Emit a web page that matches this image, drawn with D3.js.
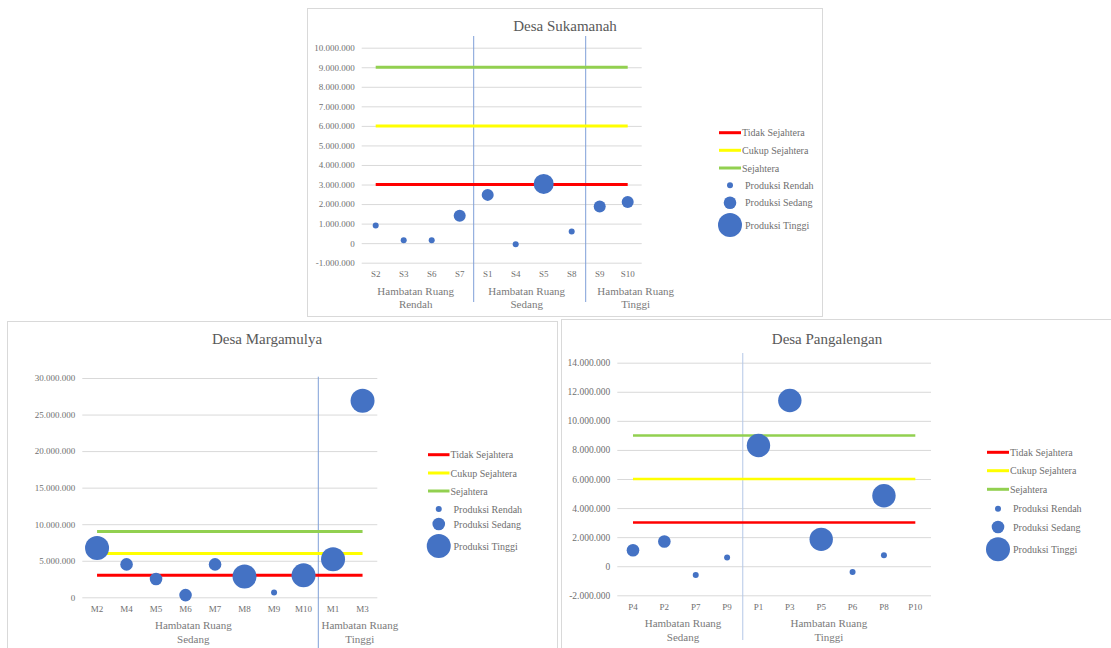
<!DOCTYPE html>
<html>
<head>
<meta charset="utf-8">
<script src="https://cdn.jsdelivr.net/npm/d3@7/dist/d3.min.js"></script>
<style>
  html, body { margin: 0; padding: 0; background: #ffffff; }
  svg, svg text { font-family: "Liberation Serif", "DejaVu Serif", "Noto Serif", Times, serif !important; }
</style>
</head>
<body>
<svg id="chart" width="1111" height="648"></svg>
<script>
// ---- Shared series ----
const thresholdNames  = ["Tidak Sejahtera", "Cukup Sejahtera", "Sejahtera"];
const thresholdValues = [3000000, 6000000, 9000000];
const thresholdColors = ["#ff0000", "#ffff00", "#92d050"];
const productionClasses = ["Rendah", "Sedang", "Tinggi"];
const productionLabels  = ["Produksi Rendah", "Produksi Sedang", "Produksi Tinggi"];
const groupNames = { Rendah: ["Hambatan Ruang", "Rendah"], Sedang: ["Hambatan Ruang", "Sedang"], Tinggi: ["Hambatan Ruang", "Tinggi"] };

// ---- Desa Sukamanah ----
const sukamanahCategories = ["S2", "S3", "S6", "S7", "S1", "S4", "S5", "S8", "S9", "S10"];
const sukamanahGroups     = ["Rendah", "Sedang", "Tinggi"];
const sukamanahGroupSizes = [4, 4, 2];
const sukamanahPoints     = ["S2", "S3", "S6", "S7", "S1", "S4", "S5", "S8", "S9", "S10"];
const sukamanahValues     = [900000, 150000, 150000, 1400000, 2470000, -50000, 3030000, 600000, 1880000, 2110000];
const sukamanahClasses    = ["Rendah", "Rendah", "Rendah", "Sedang", "Sedang", "Rendah", "Tinggi", "Rendah", "Sedang", "Sedang"];
const sukamanahTicks      = [-1000000, 0, 1000000, 2000000, 3000000, 4000000, 5000000, 6000000, 7000000, 8000000, 9000000, 10000000];

// ---- Desa Margamulya ----
const margamulyaCategories = ["M2", "M4", "M5", "M6", "M7", "M8", "M9", "M10", "M1", "M3"];
const margamulyaGroups     = ["Sedang", "Tinggi"];
const margamulyaGroupSizes = [8, 2];
const margamulyaPoints     = ["M2", "M4", "M5", "M6", "M7", "M8", "M9", "M10", "M1", "M3"];
const margamulyaValues     = [6750000, 4500000, 2500000, 300000, 4500000, 2850000, 650000, 3000000, 5200000, 26900000];
const margamulyaClasses    = ["Tinggi", "Sedang", "Sedang", "Sedang", "Sedang", "Tinggi", "Rendah", "Tinggi", "Tinggi", "Tinggi"];
const margamulyaTicks      = [0, 5000000, 10000000, 15000000, 20000000, 25000000, 30000000];

// ---- Desa Pangalengan ----
const pangalenganCategories = ["P4", "P2", "P7", "P9", "P1", "P3", "P5", "P6", "P8", "P10"];
const pangalenganGroups     = ["Sedang", "Tinggi"];
const pangalenganGroupSizes = [4, 6];
const pangalenganPoints     = ["P4", "P2", "P7", "P9", "P1", "P3", "P5", "P6", "P8", "P8"];
const pangalenganValues     = [1100000, 1700000, -600000, 600000, 8300000, 11400000, 1850000, -400000, 4850000, 750000];
const pangalenganClasses    = ["Sedang", "Sedang", "Rendah", "Rendah", "Tinggi", "Tinggi", "Tinggi", "Rendah", "Tinggi", "Rendah"];
const pangalenganTicks      = [-2000000, 0, 2000000, 4000000, 6000000, 8000000, 10000000, 12000000, 14000000];

// Indonesian number format: 10.000.000
const idLocale = d3.formatLocale({ decimal: ",", thousands: ".", grouping: [3], currency: ["Rp", ""], minus: "-" });
const fmt = idLocale.format(",d");

const FONT = '"Liberation Serif", "DejaVu Serif", "Noto Serif", Times, serif';
const svg = d3.select("#chart");

function drawChart(cfg) {
  const L = cfg.layout;
  const g = svg.append("g");

  // panel frame
  g.append("rect")
    .attr("x", L.panel[0] + 0.5).attr("y", L.panel[1] + 0.5)
    .attr("width", L.panel[2]).attr("height", L.panel[3])
    .attr("fill", "#ffffff").attr("stroke", "#d9d9d9").attr("stroke-width", 1);

  // title
  g.append("text")
    .attr("x", L.titleX).attr("y", L.titleY)
    .attr("text-anchor", "middle").attr("dominant-baseline", "central")
    .attr("font-size", 15).attr("fill", "#595959")
    .style("font-family", FONT)
    .text(cfg.title);

  const x = d3.scaleBand().domain(cfg.categories).range([L.x0, L.x1]);
  const y = d3.scaleLinear().domain(d3.extent(cfg.ticks)).range([L.yBottom, L.yTop]);
  const cx = c => x(c) + x.bandwidth() / 2;

  // gridlines + value labels
  const yAxis = d3.axisLeft(y).tickValues(cfg.ticks).tickFormat(fmt)
    .tickSizeInner(-(L.x1 - L.x0)).tickSizeOuter(0).tickPadding(7);
  const ya = g.append("g").attr("transform", `translate(${L.x0},0)`).call(yAxis);
  ya.attr("font-family", null);
  ya.select(".domain").remove();
  ya.selectAll(".tick line").attr("stroke", "#d9d9d9").attr("stroke-width", 1);
  ya.selectAll(".tick text").attr("fill", "#6f6f6f").attr("font-size", L.tickFont)
    .style("font-family", FONT);

  // category labels
  const xAxis = d3.axisBottom(x).tickSize(0).tickPadding(8);
  const xa = g.append("g").attr("transform", `translate(0,${L.yBottom})`).call(xAxis);
  xa.attr("font-family", null);
  xa.select(".domain").remove();
  xa.selectAll(".tick text").attr("fill", "#6f6f6f").attr("font-size", 9)
    .style("font-family", FONT);

  // group labels and separators
  let start = 0;
  cfg.groups.forEach((grp, i) => {
    const n = cfg.groupSizes[i];
    const left = L.x0 + start * x.step();
    const right = left + n * x.step();
    const mid = (left + right) / 2 + (L.groupShift[i] || 0);
    const t = g.append("text")
      .attr("text-anchor", "middle").attr("fill", "#7a7a7a").attr("font-size", 11)
      .style("font-family", FONT);
    groupNames[grp].forEach((line, k) => {
      t.append("tspan").attr("x", mid).attr("y", L.yBottom + 32 + k * 13.5).text(line);
    });
    if (i < cfg.groups.length - 1) {
      g.append("line")
        .attr("x1", right).attr("x2", right)
        .attr("y1", L.sepTop).attr("y2", L.sepBottom)
        .attr("stroke", L.sepColor).attr("stroke-width", 1);
    }
    start += n;
  });

  // threshold lines spanning first to last category
  const first = cx(cfg.categories[0]);
  const last = cx(cfg.categories[cfg.categories.length - 1]);
  g.selectAll(".threshold").data(thresholdValues).join("line")
    .attr("class", "threshold")
    .attr("x1", first).attr("x2", last)
    .attr("y1", d => y(d)).attr("y2", d => y(d))
    .attr("stroke", (d, i) => thresholdColors[i])
    .attr("stroke-width", L.lineWidth);

  // production bubbles
  const radius = d3.scaleOrdinal().domain(productionClasses).range(L.radii);
  const pts = cfg.points.map((c, i) => ({ c, v: cfg.values[i], k: cfg.classes[i] }));
  g.selectAll(".bubble").data(pts).join("circle")
    .attr("class", "bubble")
    .attr("cx", d => cx(d.c)).attr("cy", d => y(d.v))
    .attr("r", d => radius(d.k))
    .attr("fill", "#4472c4");

  // legend
  const lg = g.append("g");
  const legendRows = thresholdNames.map((n, i) => ({ type: "line", label: n, color: thresholdColors[i] }))
    .concat(productionLabels.map((n, i) => ({ type: "dot", label: n, r: L.legendRadii[i] })));
  legendRows.forEach((row, i) => {
    const yy = L.legendRows[i];
    if (row.type === "line") {
      lg.append("line").attr("x1", L.legendX0).attr("x2", L.legendX1)
        .attr("y1", yy).attr("y2", yy)
        .attr("stroke", row.color).attr("stroke-width", 3);
    } else {
      lg.append("circle").attr("cx", (L.legendX0 + L.legendX1) / 2).attr("cy", yy)
        .attr("r", row.r).attr("fill", "#4472c4");
    }
    lg.append("text").attr("x", L.legendX1 + (row.type === "line" ? 1 : 4)).attr("y", yy)
      .attr("dominant-baseline", "central").attr("fill", "#6f6f6f").attr("font-size", 10)
      .style("font-family", FONT)
      .text(row.label);
  });
}

drawChart({
  title: "Desa Sukamanah",
  categories: sukamanahCategories, groups: sukamanahGroups, groupSizes: sukamanahGroupSizes,
  points: sukamanahPoints, values: sukamanahValues, classes: sukamanahClasses, ticks: sukamanahTicks,
  layout: {
    panel: [307, 8, 515, 308], titleX: 565, titleY: 26,
    x0: 361.7, x1: 641.7, yTop: 47.7, yBottom: 262.7, tickFont: 9,
    sepTop: 36, sepBottom: 302, sepColor: "#7f9fd8", groupShift: [-2, -3, 22],
    lineWidth: 3, radii: [3, 6, 10],
    legendX0: 719, legendX1: 741, legendRows: [132.7, 150.3, 168, 185.3, 202.7, 225], legendRadii: [3, 6.3, 12]
  }
});

drawChart({
  title: "Desa Margamulya",
  categories: margamulyaCategories, groups: margamulyaGroups, groupSizes: margamulyaGroupSizes,
  points: margamulyaPoints, values: margamulyaValues, classes: margamulyaClasses, ticks: margamulyaTicks,
  layout: {
    panel: [7, 321, 550, 340], titleX: 267, titleY: 339,
    x0: 82.3, x1: 377.3, yTop: 378, yBottom: 597.3, tickFont: 9,
    sepTop: 376.7, sepBottom: 648, sepColor: "#7f9fd8", groupShift: [-7, 12],
    lineWidth: 3, radii: [3, 6.3, 12],
    legendX0: 428, legendX1: 449.5, legendRows: [454.7, 473, 491, 509, 524, 546], legendRadii: [3, 6.3, 12]
  }
});

drawChart({
  title: "Desa Pangalengan",
  categories: pangalenganCategories, groups: pangalenganGroups, groupSizes: pangalenganGroupSizes,
  points: pangalenganPoints, values: pangalenganValues, classes: pangalenganClasses, ticks: pangalenganTicks,
  layout: {
    panel: [561, 319, 550, 340], titleX: 827, titleY: 339,
    x0: 617.3, x1: 931, yTop: 362.7, yBottom: 595.3, tickFont: 9.5,
    sepTop: 353, sepBottom: 640, sepColor: "#b4c7e7", groupShift: [3, -8],
    lineWidth: 2.5, radii: [3, 6.3, 11.7],
    legendX0: 987, legendX1: 1009, legendRows: [452.3, 470.7, 489.3, 508.7, 527, 549.3], legendRadii: [3, 6.3, 12]
  }
});
</script>
</body>
</html>
